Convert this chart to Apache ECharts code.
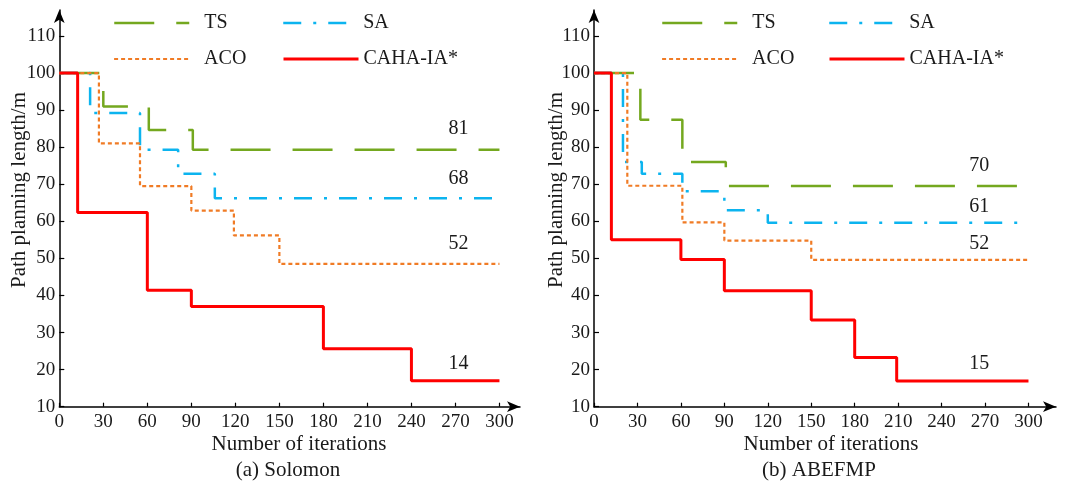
<!DOCTYPE html>
<html>
<head>
<meta charset="utf-8">
<title>Path planning length vs iterations</title>
<script src="https://cdn.jsdelivr.net/npm/echarts@6/dist/echarts.min.js"></script>
<style>
  html, body { margin: 0; padding: 0; background: #fff; }
  #main { width: 1072px; height: 481px; }
</style>
</head>
<body>
<div id="main"></div>
<script>
// tick labels
const xTicks = [0, 30, 60, 90, 120, 150, 180, 210, 240, 270, 300];
const yTicks = [10, 20, 30, 40, 50, 60, 70, 80, 90, 100, 110];
const seriesNames = ['TS', 'SA', 'ACO', 'CAHA-IA*'];

// (a) Solomon  [iteration, length] - step changes
const solomonTS = [[0, 100], [30, 91], [61, 84.6], [91, 79.3], [300, 79.3]];
const solomonSA = [[0, 100], [21, 89.2], [55, 79.3], [81, 72.8], [106, 66.2], [300, 66.2]];
const solomonACO = [[0, 100], [27, 81], [55, 69.5], [90, 62.9], [119, 56.2], [150, 48.5], [300, 48.5]];
const solomonCAHA = [[0, 100], [12.5, 62.4], [60, 41.4], [90, 37], [180, 25.6], [240, 17], [300, 17]];
const solomonLabels = ['81', '68', '52', '14'];

// (b) ABEFMP
const abefmpTS = [[0, 100], [32, 87.4], [61, 76], [91, 69.5], [300, 69.5]];
const abefmpSA = [[0, 100], [20, 76], [33, 72.8], [61, 68.1], [90, 63], [120, 59.6], [300, 59.6]];
const abefmpACO = [[0, 100], [23, 69.6], [61, 59.7], [90, 54.8], [150, 49.6], [300, 49.6]];
const abefmpCAHA = [[0, 100], [12, 55], [60, 49.7], [90, 41.3], [150, 33.4], [180, 23.3], [209, 16.9], [300, 16.9]];
const abefmpLabels = ['70', '61', '52', '15'];

const FONT = 'Liberation Serif';
const TEXT = '#1a1a1a';

const styles = {
  'TS': { color: '#74a81f', width: 2.5, type: [40, 22] },
  'SA': { color: '#0cb4ef', width: 2.5, type: [18, 12, 3, 12] },
  'ACO': { color: '#f07b25', width: 2.2, type: [4, 3] },
  'CAHA-IA*': { color: '#ff0000', width: 3, type: 'solid' }
};

// where the end-value labels sit, per chart (x, y in data units)
const labelSpots = [
  [[272, 85.1], [272, 71.6], [272, 54], [272, 21.5]],
  [[266, 75.1], [266, 63.9], [266, 54], [266, 21.7]]
];

function makeSeries(idx, dataList, labels) {
  return dataList.map(function (data, i) {
    const name = seriesNames[i];
    const st = styles[name];
    return {
      name: name,
      type: 'line',
      step: 'end',
      xAxisIndex: idx,
      yAxisIndex: idx,
      symbol: 'none',
      data: data,
      lineStyle: { color: st.color, width: st.width, type: st.type },
      itemStyle: { color: st.color },
      markPoint: {
        symbol: 'circle',
        symbolSize: 0,
        silent: true,
        label: { show: true, formatter: '{c}', color: TEXT, fontFamily: FONT, fontSize: 20 },
        data: [{ coord: labelSpots[idx][i], value: labels[i] }]
      }
    };
  });
}

function makeXAxis(idx, max) {
  return {
    type: 'value',
    gridIndex: idx,
    min: 0,
    max: max,
    interval: 30,
    axisLine: {
      onZero: false,
      lineStyle: { color: '#000', width: 1.5 },
      symbol: ['none', 'arrow'],
      symbolSize: [8, 13]
    },
    axisTick: { inside: true, length: 4, customValues: xTicks, lineStyle: { color: '#000', width: 1.2 } },
    axisLabel: { customValues: xTicks, margin: 6, color: TEXT, fontFamily: FONT, fontSize: 19 },
    splitLine: { show: false }
  };
}

function makeYAxis(idx) {
  return {
    type: 'value',
    gridIndex: idx,
    min: 10,
    max: 117,
    interval: 10,
    axisLine: {
      onZero: false,
      lineStyle: { color: '#000', width: 1.5 },
      symbol: ['none', 'arrow'],
      symbolSize: [8, 13]
    },
    axisTick: { inside: true, length: 5, customValues: yTicks, lineStyle: { color: '#000', width: 1.2 } },
    axisLabel: { customValues: yTicks, margin: 4, color: TEXT, fontFamily: FONT, fontSize: 19 },
    splitLine: { show: false }
  };
}

// one legend per item so the two columns line up like the original
function makeLegend(left, top, name, textGap) {
  return {
    left: left,
    top: top,
    padding: 0,
    itemWidth: 75,
    itemHeight: 14,
    data: [name],
    itemStyle: { opacity: 0 },
    lineStyle: { width: styles[name].width },
    textStyle: { color: TEXT, fontFamily: FONT, fontSize: 20, padding: [0, 0, 0, textGap] }
  };
}

function makeText(x, y, text, rotate) {
  return {
    type: 'text',
    x: x,
    y: y,
    rotation: rotate ? Math.PI / 2 : 0,
    style: { text: text, fill: TEXT, font: '21px "' + FONT + '"', textAlign: 'center', textVerticalAlign: 'middle' }
  };
}

const chart = echarts.init(document.getElementById('main'));

const option = {
  animation: false,
  backgroundColor: '#fff',
  grid: [
    { left: 59.3, top: 10, width: 460.7, height: 396.7 },
    { left: 594, top: 10, width: 462, height: 396.7 }
  ],
  xAxis: [makeXAxis(0, 314), makeXAxis(1, 319)],
  yAxis: [makeYAxis(0), makeYAxis(1)],
  legend: [
    makeLegend(113, 13, 'TS', 10),
    makeLegend(282, 13, 'SA', 0),
    makeLegend(113, 49, 'ACO', 10),
    makeLegend(282, 49, 'CAHA-IA*', 0),
    makeLegend(661, 13, 'TS', 10),
    makeLegend(828, 13, 'SA', 0),
    makeLegend(661, 49, 'ACO', 10),
    makeLegend(828, 49, 'CAHA-IA*', 0)
  ],
  graphic: [
    makeText(19, 190, 'Path planning length/m', true),
    makeText(299, 444, 'Number of iterations'),
    makeText(288, 470, '(a) Solomon'),
    makeText(556, 190, 'Path planning length/m', true),
    makeText(831, 444, 'Number of iterations'),
    makeText(819, 470, '(b) ABEFMP')
  ],
  series: []
    .concat(makeSeries(0, [solomonTS, solomonSA, solomonACO, solomonCAHA], solomonLabels))
    .concat(makeSeries(1, [abefmpTS, abefmpSA, abefmpACO, abefmpCAHA], abefmpLabels))
};

chart.setOption(option);
</script>
</body>
</html>
